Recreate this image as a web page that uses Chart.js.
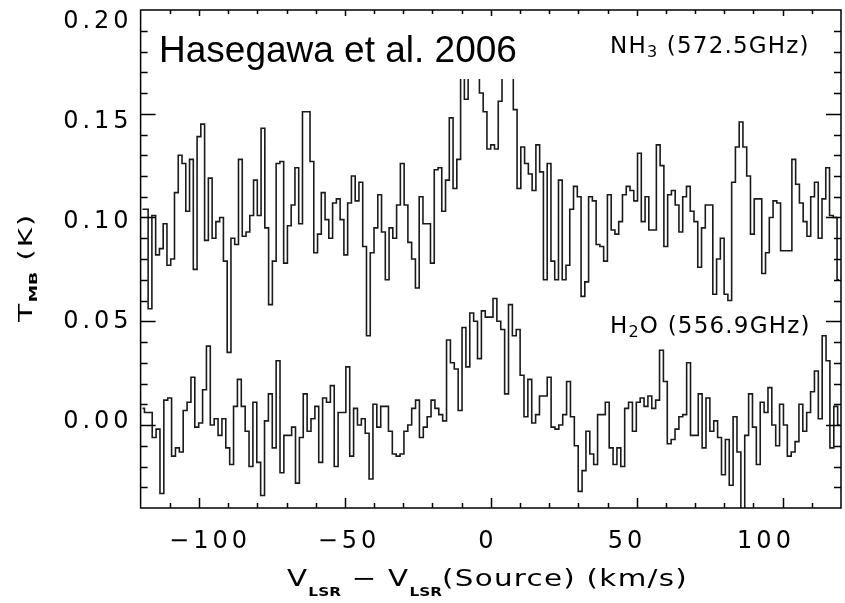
<!DOCTYPE html>
<html>
<head>
<meta charset="utf-8">
<script src="https://cdn.jsdelivr.net/npm/chart.js@4.4.1/dist/chart.umd.min.js"></script>
<style>
  html, body { margin: 0; padding: 0; background: #fff; }
  #wrap { width: 845px; height: 603px; }
</style>
</head>
<body>
<div id="wrap"><canvas id="spec" width="845" height="603"></canvas></div>
<script>
// Channel grids (km/s): lower edge of the first channel and channel width
const NH3_START = -120, NH3_WIDTH = 1.29;
const H2O_START = -120, H2O_WIDTH = 1.327;

// NH3 (572.5 GHz) main-beam temperature per channel (K)
const nh3 = [
  0.104,0.104,0.056,0.101,0.082,0.085,0.097,0.077,0.080,0.112,
  0.130,0.126,0.103,0.128,0.075,0.139,0.145,0.089,0.119,0.090,
  0.098,0.100,0.079,0.035,0.090,0.087,0.128,0.091,0.093,0.101,
  0.118,0.101,0.143,0.095,0.058,0.079,0.126,0.127,0.078,0.096,
  0.106,0.124,0.097,0.151,0.151,0.127,0.083,0.092,0.112,0.099,
  0.090,0.107,0.109,0.099,0.082,0.107,0.120,0.108,0.117,0.086,
  0.043,0.083,0.095,0.111,0.093,0.070,0.095,0.090,0.106,0.126,
  0.106,0.088,0.080,0.066,0.110,0.097,0.097,0.078,0.123,0.124,
  0.103,0.118,0.148,0.114,0.128,0.185,0.157,0.190,0.180,0.175,
  0.160,0.151,0.133,0.135,0.133,0.156,0.180,0.190,0.175,0.152,
  0.114,0.134,0.126,0.121,0.113,0.135,0.122,0.070,0.126,0.079,
  0.070,0.118,0.070,0.077,0.104,0.115,0.110,0.062,0.069,0.110,
  0.108,0.087,0.086,0.079,0.111,0.094,0.092,0.098,0.111,0.115,
  0.113,0.108,0.131,0.098,0.110,0.094,0.094,0.135,0.125,0.086,
  0.111,0.113,0.106,0.093,0.110,0.115,0.103,0.098,0.076,0.095,
  0.106,0.106,0.063,0.080,0.090,0.063,0.060,0.117,0.134,0.146,
  0.134,0.120,0.092,0.109,0.109,0.073,0.083,0.100,0.108,0.107,
  0.084,0.084,0.084,0.128,0.116,0.107,0.098,0.091,0.110,0.117,
  0.090,0.109,0.124,0.101,0.100,0.070
];

// H2O (556.9 GHz) main-beam temperature per channel (K)
const h2o = [
  0.008,0.006,0.006,-0.006,-0.002,-0.033,0.012,0.013,-0.015,-0.011,
  -0.013,0.007,0.011,0.023,-0.001,0.001,0.017,0.038,0.000,0.003,
  -0.005,0.003,-0.011,-0.019,0.009,0.022,0.009,-0.003,-0.020,0.011,
  -0.018,-0.034,0.002,0.015,-0.011,0.031,-0.023,-0.005,-0.005,-0.001,
  -0.028,-0.006,0.015,-0.003,0.003,0.009,-0.018,0.013,0.011,0.019,
  -0.020,0.006,0.006,0.028,-0.015,0.008,0.000,0.003,-0.004,-0.026,
  0.010,-0.001,0.009,0.009,-0.003,-0.014,-0.015,-0.014,-0.003,0.000,
  0.008,0.012,-0.006,-0.001,0.004,0.012,0.008,0.005,0.002,0.041,
  0.030,0.027,0.007,0.047,0.028,0.054,0.050,0.032,0.055,0.052,
  0.052,0.061,0.050,0.046,0.015,0.058,0.043,0.046,0.024,0.004,
  0.022,0.001,0.005,0.014,0.014,0.023,-0.001,-0.002,0.000,0.005,
  0.021,0.004,-0.010,-0.032,-0.022,-0.003,-0.014,-0.019,0.005,0.005,
  0.011,-0.011,-0.019,-0.011,-0.020,0.008,0.011,-0.003,0.011,0.013,
  0.009,0.014,0.008,0.012,0.036,0.021,-0.009,-0.007,-0.002,0.004,
  0.005,0.030,-0.005,-0.005,0.015,-0.011,0.013,-0.003,0.002,-0.006,
  -0.024,-0.007,-0.029,0.004,-0.013,-0.046,-0.005,0.015,-0.001,-0.019,
  0.011,0.006,0.018,0.000,-0.010,0.010,0.000,-0.015,-0.013,-0.008,
  0.010,-0.003,0.006,0.016,0.026,0.003,0.043,0.031,-0.011,0.009,
  0.000
];

// Axis tick labels
const X_TICKS = [-100, -50, 0, 50, 100];
const Y_TICKS = [0.00, 0.05, 0.10, 0.15, 0.20];

const TEXT_FONT = '"DejaVu Sans", sans-serif';

function toPoints(values, start, width) {
  return values.map((t, i) => ({ x: start + width * (i + 0.5), y: t }));
}

// draw a run of text pieces (for sub-scripted labels), returns total width
function drawRuns(ctx, runs, x, y, spacing, measureOnly) {
  let cx = x;
  for (const r of runs) {
    ctx.font = (r.weight || '') + ' ' + r.size + 'px ' + TEXT_FONT;
    ctx.letterSpacing = (r.spacing !== undefined ? r.spacing : spacing) + 'px';
    if (!measureOnly) ctx.fillText(r.text, cx, y + (r.dy || 0));
    cx += ctx.measureText(r.text).width;
  }
  return cx - x;
}

// same, but widened horizontally so the whole run spans `width` pixels
function drawRunsWide(ctx, runs, centerX, baseY, width, spacing) {
  const natural = drawRuns(ctx, runs, 0, 0, spacing, true);
  ctx.save();
  ctx.translate(centerX - width / 2, baseY);
  ctx.scale(width / natural, 1);
  drawRuns(ctx, runs, 0, 0, spacing);
  ctx.restore();
}

const frameAndLabels = {
  id: 'frameAndLabels',
  beforeDraw(chart) {
    chart.ctx.letterSpacing = '4px';
  },
  afterDatasetsDraw(chart) {
    const { ctx, chartArea: a, scales } = chart;
    const xs = scales.x, ys = scales.y;
    ctx.save();
    ctx.letterSpacing = '0px';
    ctx.strokeStyle = '#000';
    ctx.lineWidth = 1.5;
    ctx.strokeRect(a.left, a.top, a.right - a.left, a.bottom - a.top);
    ctx.beginPath();
    // inward tick marks every 10 km/s, longer every 50 km/s
    for (let v = -110; v <= 110; v += 10) {
      const px = Math.round(xs.getPixelForValue(v)) + 0.5;
      const major = v % 50 === 0;
      ctx.moveTo(px, a.bottom); ctx.lineTo(px, a.bottom - (major ? 10 : 5));
      ctx.moveTo(px, a.top);    ctx.lineTo(px, a.top + (major ? 6 : 4));
    }
    // inward tick marks every 0.01 K, longer every 0.05 K
    for (let i = -3; i <= 19; i++) {
      const py = Math.round(ys.getPixelForValue(i / 100)) + 0.5;
      const major = i % 5 === 0;
      ctx.moveTo(a.left, py);  ctx.lineTo(a.left + (major ? 15 : 7), py);
      ctx.moveTo(a.right, py); ctx.lineTo(a.right - (major ? 15 : 7), py);
    }
    ctx.stroke();
    ctx.restore();
  },
  afterDraw(chart) {
    const { ctx } = chart;
    ctx.save();
    ctx.fillStyle = '#000';
    ctx.textBaseline = 'alphabetic';
    ctx.textAlign = 'left';

    // reference label on a white patch
    ctx.fillStyle = '#fff';
    ctx.fillRect(152, 19, 376, 60);
    ctx.fillStyle = '#000';
    ctx.letterSpacing = '0px';
    ctx.font = '37px "Liberation Sans", Arial, sans-serif';
    ctx.fillText('Hasegawa et al. 2006', 159, 62);

    // line identifications
    drawRuns(ctx, [
      { text: 'NH', size: 23 }, { text: '3', size: 16, dy: 4 },
      { text: ' (572.5GHz)', size: 23 }
    ], 610, 53, 1.2);
    drawRuns(ctx, [
      { text: 'H', size: 23 }, { text: '2', size: 16, dy: 4 },
      { text: 'O (556.9GHz)', size: 23 }
    ], 610, 333, 1.2);

    // x-axis title
    drawRunsWide(ctx, [
      { text: 'V', size: 23 }, { text: 'LSR', size: 12, dy: 10, weight: 'bold', spacing: 0 },
      { text: ' \u2212 V', size: 23 }, { text: 'LSR', size: 12, dy: 10, weight: 'bold', spacing: 0 },
      { text: '(Source) (km/s)', size: 23 }
    ], 487.5, 586, 401, 1);

    // y-axis title, rotated
    ctx.save();
    ctx.translate(31.5, 267.5);
    ctx.rotate(-Math.PI / 2);
    drawRunsWide(ctx, [
      { text: 'T', size: 19 }, { text: 'MB', size: 11, dy: 5, weight: 'bold', spacing: 0 },
      { text: ' (K)', size: 19 }
    ], 0, 0, 109, 1);
    ctx.restore();

    ctx.restore();
    ctx.letterSpacing = '0px';
  }
};

const lineStyle = {
  stepped: 'middle', borderColor: '#1a1a1a', borderWidth: 1.6,
  pointRadius: 0, fill: false, tension: 0
};

const tickFont = { family: 'DejaVu Sans', size: 24 };

new Chart(document.getElementById('spec'), {
  type: 'line',
  data: {
    datasets: [
      Object.assign({ label: 'NH3 (572.5GHz)', data: toPoints(nh3, NH3_START, NH3_WIDTH) }, lineStyle),
      Object.assign({ label: 'H2O (556.9GHz)', data: toPoints(h2o, H2O_START, H2O_WIDTH) }, lineStyle)
    ]
  },
  options: {
    responsive: false,
    animation: false,
    devicePixelRatio: 1,
    layout: { padding: { top: 10, right: 4, left: 0, bottom: 0 } },
    plugins: { legend: { display: false }, tooltip: { enabled: false } },
    scales: {
      // data scales
      x: { type: 'linear', position: 'bottom', min: -120, max: 120, display: false },
      y: { type: 'linear', min: -0.04, max: 0.20, display: false },
      // label scales (tick labels sit on a slightly tighter grid than the ticks)
      xLabels: {
        type: 'linear', position: 'bottom', min: -124.96, max: 126.98,
        grid: { display: false, drawTicks: false },
        border: { display: false },
        afterBuildTicks: s => { s.ticks = X_TICKS.map(v => ({ value: v })); },
        afterFit: s => { s.height = 95; s.paddingLeft = 0; s.paddingRight = 0; },
        ticks: {
          color: '#000', padding: 19, maxRotation: 0, autoSkip: false,
          font: tickFont,
          callback: v => (v < 0 ? '\u2212' + Math.abs(v) : String(v))
        }
      },
      yLabels: {
        type: 'linear', position: 'left', min: -0.0433, max: 0.2057,
        grid: { display: false, drawTicks: false },
        border: { display: false },
        afterBuildTicks: s => { s.ticks = Y_TICKS.map(v => ({ value: v })); },
        afterFit: s => { s.width = 140.6; s.paddingTop = 0; s.paddingBottom = 0; },
        ticks: {
          color: '#000', padding: 8,
          font: tickFont,
          callback: v => v.toFixed(2)
        }
      }
    }
  },
  plugins: [frameAndLabels]
});
</script>
</body>
</html>
